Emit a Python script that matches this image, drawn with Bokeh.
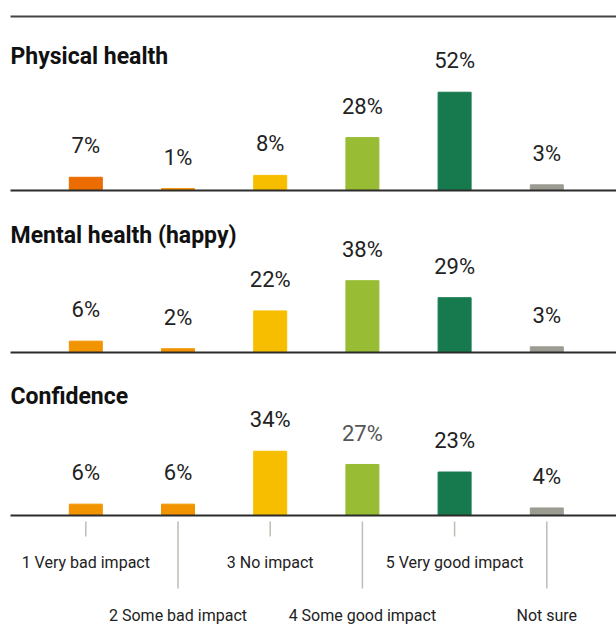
from bokeh.plotting import figure
from bokeh.layouts import column
from bokeh.models import Range1d, ColumnDataSource
from bokeh.core.properties import value
from bokeh.embed import file_html
from bokeh.resources import INLINE

# ---------------- data ----------------
categories = ["1 Very bad impact", "2 Some bad impact", "3 No impact",
              "4 Some good impact", "5 Very good impact", "Not sure"]
panel_titles = ["Physical health", "Mental health (happy)", "Confidence"]
physical = [7, 1, 8, 28, 52, 3]
mental = [6, 2, 22, 38, 29, 3]
confidence = [6, 6, 34, 27, 23, 4]
series = [physical, mental, confidence]

# ---------------- styles ----------------
panel_colors = [
    ["#EB6C00", "#F29400", "#F7BE00", "#98BD34", "#177A4F", "#9C9C93"],
    ["#F29400", "#F29400", "#F7BE00", "#98BD34", "#177A4F", "#9C9C93"],
    ["#F29400", "#F29400", "#F7BE00", "#98BD34", "#177A4F", "#9C9C93"],
]
label_colors = [
    ["#222222"] * 6,
    ["#222222"] * 6,
    ["#222222", "#222222", "#222222", "#555555", "#222222", "#222222"],
]
FONT = "Roboto"
W = 616
K = 1.89          # px per percentage point
STEP = 92.2       # px between category centres
FIRST = 85.3      # px from figure left to first category centre
BAR_W = 33        # bar width px
heights = [196, 162, 270]      # figure heights px
base_px = [6, 6, 113]          # baseline distance from figure bottom px
title_px = [124, 107, 109]     # title baseline above axis px
LABEL_GAP = 22                 # value label baseline above bar top px
SHIFT = 0.43                   # text baseline correction (em)
VAL_FS, TITLE_FS, CAT_FS = 22, 23, 16

xs_cat = list(range(1, len(categories) + 1))
x_start = 1 - FIRST / STEP
x_end = x_start + W / STEP
x_line0 = x_start + 10 / STEP


def py(px):
    return px / K


figs = []
for i, vals in enumerate(series):
    H, b = heights[i], base_px[i]
    p = figure(width=W, height=H, x_range=Range1d(x_start, x_end),
               y_range=Range1d(py(-b), py(H - b)),
               output_backend="svg", toolbar_location=None,
               x_axis_type=None, y_axis_type=None,
               min_border=0, min_border_left=0, min_border_right=0,
               min_border_top=0, min_border_bottom=0,
               outline_line_color=None, background_fill_color="white",
               border_fill_color="white")
    src = ColumnDataSource(dict(
        x=xs_cat, v=vals, color=panel_colors[i],
        ly=[v + py(LABEL_GAP + SHIFT * VAL_FS) for v in vals],
        txt=[f"{v}%" for v in vals], tcol=label_colors[i]))
    p.vbar(x="x", top="v", bottom=0, width=BAR_W / STEP, color="color",
           source=src)
    p.segment(x0=[x_line0], y0=[0], x1=[x_end], y1=[0],
              line_color="#2b2b2b", line_width=2)
    p.text(x="x", y="ly", text="txt", source=src, text_align="center",
           text_baseline="alphabetic", text_font=value(FONT),
           text_font_size=f"{VAL_FS}px", text_color="tcol")
    p.text(x=[x_start + 10 / STEP], y=[py(title_px[i] + SHIFT * TITLE_FS)],
           text=[panel_titles[i]],
           text_align="left", text_baseline="alphabetic",
           text_font=value(FONT), text_font_style="bold",
           text_font_size=f"{TITLE_FS}px", text_color="#111111")
    if i == 0:
        p.segment(x0=[x_line0], y0=[py(H - b - 16)], x1=[x_end],
                  y1=[py(H - b - 16)], line_color="#444444", line_width=2)
    if i == len(series) - 1:
        odd_x = xs_cat[0::2]
        even_x = xs_cat[1::2]
        p.segment(x0=odd_x, y0=[py(-6)] * len(odd_x), x1=odd_x,
                  y1=[py(-21)] * len(odd_x), line_color="#BDBDB5",
                  line_width=1.5)
        p.segment(x0=even_x, y0=[py(-6)] * len(even_x), x1=even_x,
                  y1=[py(-73)] * len(even_x), line_color="#BDBDB5",
                  line_width=1.5)
        p.text(x=odd_x, y=[py(-54 + SHIFT * CAT_FS)] * len(odd_x),
               text=categories[0::2],
               text_align="center", text_baseline="alphabetic",
               text_font=value(FONT), text_font_size=f"{CAT_FS}px",
               text_color="#222222")
        p.text(x=even_x, y=[py(-107 + SHIFT * CAT_FS)] * len(even_x),
               text=categories[1::2],
               text_align="center", text_baseline="alphabetic",
               text_font=value(FONT), text_font_size=f"{CAT_FS}px",
               text_color="#222222")
    figs.append(p)

layout = column(*figs, spacing=0)
open("out.html", "w").write(file_html(layout, INLINE))
